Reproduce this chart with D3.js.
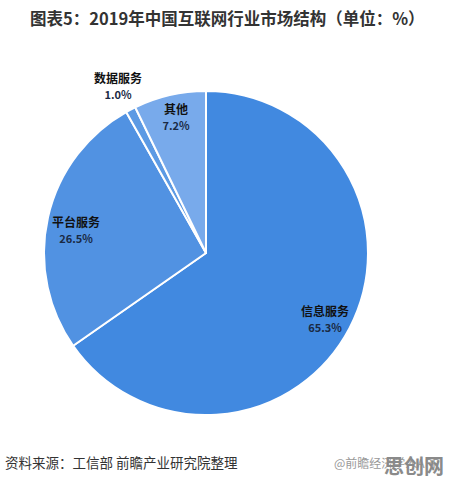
<!DOCTYPE html>
<html>
<head>
<meta charset="utf-8">
<script src="https://d3js.org/d3.v7.min.js"></script>
<style>
  body { margin: 0; background: #fff; }
  text { font-family: "Noto Sans CJK SC", "Noto Sans", sans-serif; }
</style>
</head>
<body>
<div id="chart"></div>
<script>
// chart data
const categories = ["信息服务", "平台服务", "数据服务", "其他"];
const values = [65.3, 26.5, 1.0, 7.2];
const labels = ["65.3%", "26.5%", "1.0%", "7.2%"];
const colors = ["#4189e0", "#5192e2", "#5c9ae4", "#78aaeb"];

const width = 451, height = 482;
const cx = 206, cy = 253, r = 162;

// hand-placed label spots (offsets from pie centre)
const labelPos = [[119, 63], [-130, -26], [-88, -170], [-30, -139]];

const svg = d3.select("#chart").append("svg")
    .attr("width", width)
    .attr("height", height);

svg.append("text")
    .attr("x", 30)
    .attr("y", 25)
    .attr("font-size", 16.5)
    .attr("font-weight", "bold")
    .attr("fill", "#333")
    .text("图表5：2019年中国互联网行业市场结构（单位：%）");

const pie = d3.pie().sort(null).value(d => d);
const arcs = pie(values);
const arc = d3.arc().innerRadius(0).outerRadius(r);

const g = svg.append("g").attr("transform", `translate(${cx},${cy})`);

g.selectAll("path")
    .data(arcs)
    .enter().append("path")
    .attr("d", arc)
    .attr("fill", (d, i) => colors[i])
    .attr("stroke", "#fff")
    .attr("stroke-width", 2)
    .attr("stroke-linejoin", "round");

// labels
const lab = g.selectAll("g.lab")
    .data(arcs)
    .enter().append("g")
    .attr("class", "lab")
    .attr("transform", (d, i) => `translate(${labelPos[i][0]},${labelPos[i][1]})`);

lab.append("text")
    .attr("text-anchor", "middle")
    .attr("font-size", 12)
    .attr("font-weight", "bold")
    .attr("fill", "#111")
    .text((d, i) => categories[i]);

lab.append("text")
    .attr("text-anchor", "middle")
    .attr("y", 16)
    .attr("font-size", 11)
    .attr("font-weight", 600)
    .attr("fill", "#1a2a44")
    .text((d, i) => labels[i]);

// source
svg.append("text")
    .attr("x", 5)
    .attr("y", 468)
    .attr("font-size", 13.5)
    .attr("fill", "#333")
    .text("资料来源：工信部 前瞻产业研究院整理");

svg.append("text")
    .attr("x", 334)
    .attr("y", 468)
    .attr("font-size", 12)
    .attr("fill", "#999")
    .text("@前瞻经济学人APP");

svg.append("text")
    .attr("x", 384)
    .attr("y", 474)
    .attr("font-size", 20)
    .attr("font-weight", "bold")
    .attr("fill", "#8a8a8a")
    .text("思创网");
</script>
</body>
</html>
